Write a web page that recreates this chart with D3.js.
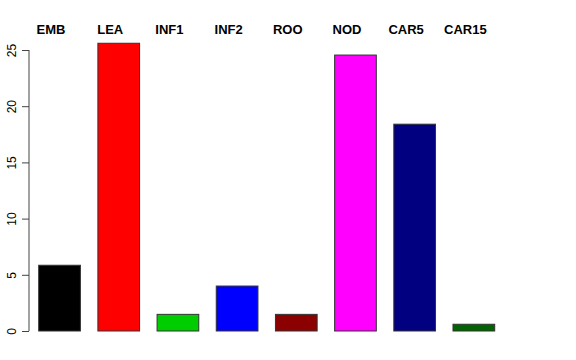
<!DOCTYPE html>
<html><head><meta charset="utf-8">
<script src="https://cdn.jsdelivr.net/npm/d3@7"></script>
<style>body{margin:0;background:#fff}svg{display:block}</style>
</head><body>
<script>
const categories = ["EMB","LEA","INF1","INF2","ROO","NOD","CAR5","CAR15"];
const values = [5.85, 25.6, 1.48, 4.0, 1.48, 24.55, 18.4, 0.6];
const colors = ["#000000","#FF0000","#00CD00","#0000FF","#8B0000","#FF00FF","#000080","#006400"];
const yTicks = [0,5,10,15,20,25];

const W=576,H=360;
const svg=d3.select("body").append("svg").attr("width",W).attr("height",H);
const x=d3.scaleBand().domain(categories).range([38.7,494.7]).paddingInner(0.2955).paddingOuter(0);
const y=d3.scaleLinear().domain([0,25]).range([331,50]);

svg.selectAll("rect.bar").data(categories).enter().append("rect")
  .attr("x",d=>x(d)).attr("width",x.bandwidth())
  .attr("y",(d,i)=>y(values[i])).attr("height",(d,i)=>y(0)-y(values[i]))
  .attr("fill",(d,i)=>colors[i]).attr("stroke","#333").attr("stroke-width",1);

const ax=svg.append("g").attr("transform","translate(29,0)")
  .call(d3.axisLeft(y).tickValues(yTicks).tickSize(7).tickPadding(0).tickFormat(d3.format("d")));
ax.select(".domain").attr("stroke","#444").attr("d","M0,"+y(0)+"V"+y(25));
ax.selectAll(".tick line").attr("stroke","#444");
ax.selectAll(".tick text").attr("font-family","Liberation Sans, Arial, sans-serif").attr("font-size",12)
  .attr("fill","#000").attr("text-anchor","middle")
  .attr("transform","translate(-13,0) rotate(-90)").attr("x",0).attr("y",0).attr("dy",0);

svg.selectAll("text.lab").data(categories).enter().append("text")
  .attr("x",d=>x(d)+x.bandwidth()/2-8.5).attr("y",34.3)
  .attr("text-anchor","middle").attr("font-family","Liberation Sans, Arial, sans-serif")
  .attr("font-weight","bold").attr("font-size",13).text(d=>d);
</script>
</body></html>
